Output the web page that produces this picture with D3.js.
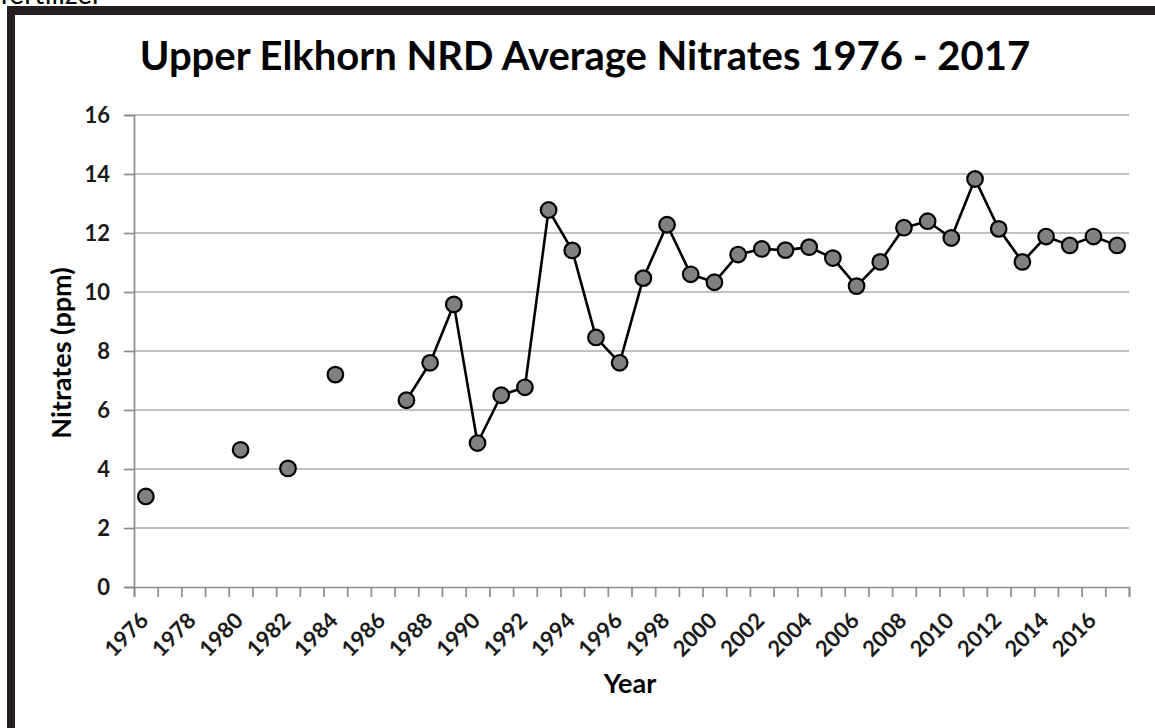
<!DOCTYPE html>
<html>
<head>
<meta charset="utf-8">
<script src="https://cdn.jsdelivr.net/npm/d3@7"></script>
<style>
  html, body { margin: 0; padding: 0; background: #fff; }
  svg { display: block; }
  text { font-family: Lato, "Open Sans", sans-serif; }
</style>
</head>
<body>
<script>
// ---- data ----
const title = "Upper Elkhorn NRD Average Nitrates 1976 - 2017";
const xTitle = "Year";
const yTitle = "Nitrates (ppm)";
const categories = d3.range(1976, 2018); // 1976 .. 2017
const years  = [1976, 1980, 1982, 1984, 1987, 1988, 1989, 1990, 1991, 1992, 1993, 1994, 1995, 1996, 1997, 1998, 1999, 2000, 2001, 2002, 2003, 2004, 2005, 2006, 2007, 2008, 2009, 2010, 2011, 2012, 2013, 2014, 2015, 2016, 2017];
const nitrates = [3.07, 4.65, 4.02, 7.2, 6.33, 7.6, 9.58, 4.88, 6.5, 6.77, 12.78, 11.41, 8.46, 7.6, 10.47, 12.28, 10.6, 10.33, 11.27, 11.46, 11.42, 11.52, 11.15, 10.2, 11.02, 12.18, 12.4, 11.83, 13.83, 12.14, 11.02, 11.88, 11.58, 11.88, 11.58];
const yTicks = [0, 2, 4, 6, 8, 10, 12, 14, 16];
const xLabelYears = d3.range(1976, 2017, 2);

// ---- layout ----
const W = 1155, H = 728;
const plot = { left: 134, right: 1129, top: 115, bottom: 587 };

const svg = d3.select("body").append("svg").attr("width", W).attr("height", H);

// outer frame (top and left black bars)
svg.append("rect").attr("x", 7).attr("y", 6).attr("width", W - 7).attr("height", 9).attr("fill", "#231f20");
svg.append("rect").attr("x", 7).attr("y", 6).attr("width", 8).attr("height", H - 6).attr("fill", "#231f20");

// cut-off caption above the frame (only its lower edge shows, as in the source)
svg.append("text").attr("x", 0).attr("y", 4).attr("font-size", 28).attr("font-weight", 400)
  .attr("fill", "#000").text("fertilizer");

// scales
const x = d3.scaleLinear().domain([categories[0], categories[categories.length - 1] + 1]).range([plot.left, plot.right]);
const y = d3.scaleLinear().domain([0, 16]).range([plot.bottom, plot.top]);
const cx = yr => x(yr + 0.5);

// gridlines
svg.append("g").selectAll("line").data(yTicks.filter(t => t > 0)).join("line")
  .attr("x1", plot.left).attr("x2", plot.right)
  .attr("y1", d => y(d)).attr("y2", d => y(d))
  .attr("stroke", "#adadad").attr("stroke-width", 1.7);

// y axis
const yAxis = svg.append("g").attr("transform", `translate(${plot.left},0)`)
  .call(d3.axisLeft(y).tickValues(yTicks).tickSize(10).tickPadding(14).tickFormat(d3.format("d")));
yAxis.select(".domain").attr("stroke", "#8c8c8c").attr("stroke-width", 1.7);
yAxis.selectAll(".tick line").attr("stroke", "#8c8c8c").attr("stroke-width", 1.7);
yAxis.selectAll(".tick text").attr("font-family", "Lato, sans-serif").attr("font-size", 22)
  .attr("font-weight", 700).attr("fill", "#1a1a1a");

// x axis (ticks at category boundaries)
const xAxis = svg.append("g").attr("transform", `translate(0,${plot.bottom})`)
  .call(d3.axisBottom(x).tickValues(d3.range(categories[0], categories[categories.length - 1] + 2)).tickSize(10).tickFormat(""));
xAxis.select(".domain").attr("stroke", "#8c8c8c").attr("stroke-width", 1.7);
xAxis.selectAll(".tick line").attr("stroke", "#8c8c8c").attr("stroke-width", 1.7);

// x labels rotated at category centers
svg.append("g").selectAll("text").data(xLabelYears).join("text")
  .attr("transform", d => `translate(${cx(d) + 4},${622}) rotate(-45)`)
  .attr("text-anchor", "end")
  .attr("font-size", 22).attr("font-weight", 700).attr("fill", "#1a1a1a")
  .text(d => d);

// series
const full = categories.map(c => { const i = years.indexOf(c); return { year: c, v: i >= 0 ? nitrates[i] : null }; });
const line = d3.line().defined(d => d.v !== null).x(d => cx(d.year)).y(d => y(d.v));
svg.append("path").datum(full).attr("d", line).attr("fill", "none")
  .attr("stroke", "#000").attr("stroke-width", 2.6).attr("stroke-linejoin", "round");

svg.append("g").selectAll("circle").data(years.map((yr, i) => ({ year: yr, v: nitrates[i] }))).join("circle")
  .attr("cx", d => cx(d.year)).attr("cy", d => y(d.v)).attr("r", 7.8)
  .attr("fill", "#808080").attr("stroke", "#000").attr("stroke-width", 2.2);

// titles
svg.append("text").attr("x", 585).attr("y", 70).attr("text-anchor", "middle")
  .attr("font-size", 40).attr("font-weight", 700).attr("fill", "#000").text(title);
svg.append("text").attr("x", 630).attr("y", 693).attr("text-anchor", "middle")
  .attr("font-size", 27).attr("font-weight", 700).attr("fill", "#000").text(xTitle);
svg.append("text").attr("transform", `translate(71,353) rotate(-90)`).attr("text-anchor", "middle")
  .attr("font-size", 27).attr("font-weight", 700).attr("fill", "#000").text(yTitle);
</script>
</body>
</html>
